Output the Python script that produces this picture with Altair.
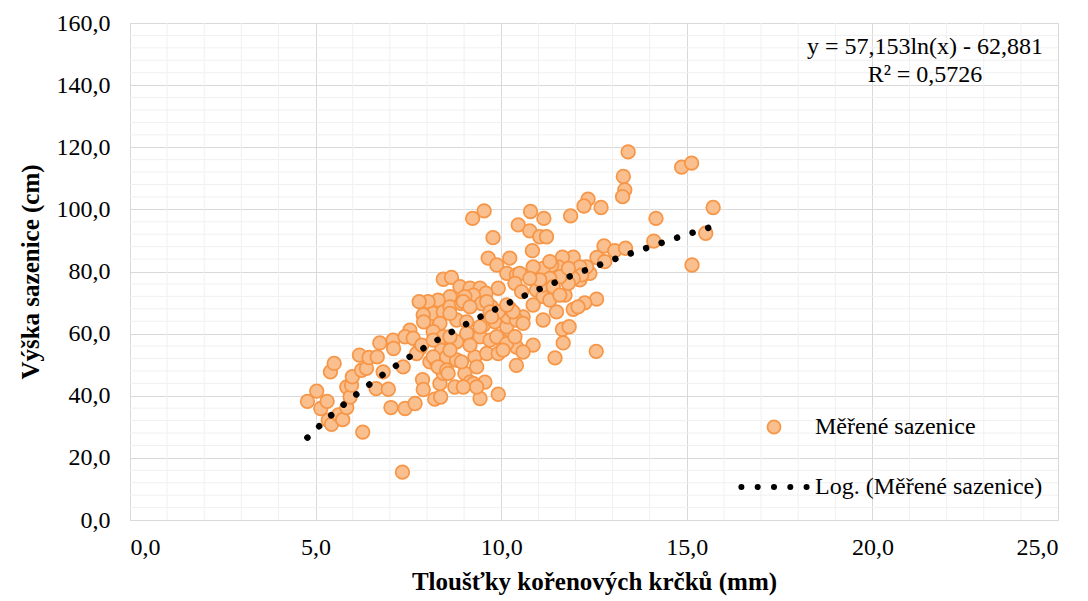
import altair as alt
import pandas as pd

# Root collar thickness (mm) and seedling height (cm) of the measured seedlings
thickness_mm = [
    4.78, 5.03, 5.14, 5.31, 5.34, 5.43, 5.40, 5.50, 5.62, 5.73, 5.84, 5.84, 5.93, 5.97, 5.99,
    6.18, 6.24, 6.27, 6.37, 6.44, 6.66, 6.63, 6.73, 6.82, 6.96, 7.03, 7.09, 7.10, 7.36, 7.41,
    7.68, 7.34, 7.54, 7.41, 7.63, 7.88, 7.90, 8.21, 8.37, 8.35, 7.99, 7.81, 8.08, 8.26, 8.44,
    8.39, 7.72, 7.86,
    9.65, 10.23, 9.88, 10.15, 10.41, 8.44, 8.66, 8.89, 9.16, 9.43, 9.92, 9.59, 9.25, 9.02, 8.62,
    8.30, 8.03, 7.79, 8.17, 8.44, 8.62, 8.93, 9.47, 9.74, 10.05, 10.32, 7.90, 7.91, 8.35, 8.80,
    9.07, 9.52, 9.83, 10.15, 8.17, 8.44, 8.80, 9.16, 9.43, 9.70, 10.05, 10.41, 8.17, 8.53, 8.80,
    9.29, 9.61, 9.92, 8.30, 8.53, 9.02, 9.34, 8.75, 9.16, 9.56, 9.43, 9.92,
    13.42, 13.29, 13.33, 13.27, 14.86, 15.13, 12.34, 12.23, 12.69, 11.87, 14.17, 9.23, 9.54,
    10.79, 11.15, 10.46, 10.77, 11.04, 11.22, 9.78, 10.84, 14.11, 12.77, 13.06, 13.35, 15.14,
    15.71, 15.51, 12.57, 12.56, 11.45, 11.67, 11.65, 11.83, 11.94, 12.25, 11.49, 11.72, 12.12,
    12.39, 12.58, 12.79, 12.30, 11.94, 11.65, 11.54, 11.36, 11.13, 10.86, 10.50, 10.37, 10.55,
    10.95, 11.13, 11.31, 10.17, 10.23, 10.59, 10.86, 11.13, 10.41, 9.43, 9.88, 10.15, 10.86,
    10.41, 10.59, 9.25, 10.05, 8.17, 8.62, 9.07, 8.98, 9.61, 9.70, 9.16, 8.62,
    12.07, 9.34, 8.98, 8.57, 8.93, 10.37, 10.59, 10.32, 9.92, 9.74, 9.16, 8.62, 10.15, 11.13,
    11.31, 12.12, 12.17, 11.94, 11.81, 11.58, 11.81, 11.31, 11.04, 10.77, 11.40, 11.58,
]
height_cm = [
    38.2, 41.5, 35.9, 38.2, 32.1, 30.8, 47.7, 50.4, 33.8, 32.3, 36.2, 42.8, 39.6, 43.4, 46.1,
    53.1, 48.2, 28.3, 48.8, 52.3, 52.5, 42.3, 57.0, 47.7, 42.1, 36.2, 57.9, 55.2, 49.3, 35.9,
    37.5, 15.4, 61.1, 59.0, 58.5, 45.2, 42.0, 38.9, 39.6, 43.9, 63.8, 55.2, 50.9, 50.9, 47.2,
    54.7, 53.6, 56.3,
    84.3, 84.3, 82.1, 79.4, 78.9, 77.5, 78.1, 75.1, 74.6, 74.6, 74.6, 73.0, 72.4, 71.9, 71.9,
    70.8, 70.3, 70.3, 66.5, 67.0, 68.6, 69.7, 69.7, 68.6, 66.5, 65.4, 66.0, 63.8, 63.3, 64.4,
    63.8, 62.7, 63.8, 62.2, 60.6, 59.0, 57.4, 59.5, 59.0, 57.9, 57.4, 55.7, 52.5, 52.5, 51.5,
    52.5, 53.6, 53.6, 49.3, 48.2, 47.2, 49.3, 42.8, 44.4, 44.4, 39.1, 40.5,
    118.5, 110.6, 106.3, 104.1, 113.6, 114.9, 103.3, 101.1, 100.6, 97.9, 97.1, 97.1, 99.5,
    99.3, 97.1, 95.0, 93.1, 91.2, 91.2, 90.9, 86.7, 89.8, 88.2, 86.7, 87.5, 82.1,
    100.6, 92.3, 71.1, 54.3, 52.2, 57.0, 61.4, 62.2, 67.8, 69.9, 67.0, 72.4, 77.3,
    79.4, 84.5, 83.2, 81.5, 84.6, 84.6, 81.5, 82.1, 81.0, 81.5, 79.4, 76.2, 73.5,
    74.0, 71.9, 70.8, 65.4, 68.1, 65.4, 69.2, 64.4, 64.4, 62.2, 59.0, 56.8, 56.3,
    49.8, 54.1, 43.9, 54.7, 57.9, 59.0, 60.1, 70.3, 70.3, 67.0, 68.6, 66.5,
    68.6, 42.8, 42.8, 47.2, 50.9, 59.0, 63.3, 67.0, 67.0, 65.4, 56.3, 54.7, 69.2, 75.6,
    83.2, 81.5, 78.9, 77.8, 76.2, 78.3, 81.0, 77.8, 77.3, 77.8, 75.1, 72.4,
]

series_name = "Měřené sazenice"
trend_name = "Log. (Měřené sazenice)"

# Logarithmic trendline y = a*ln(x) + b and its coefficient of determination
trend_a = 57.153
trend_b = -62.881
trend_r2 = 0.5726

x_major = [0, 5, 10, 15, 20, 25]
y_major = [0, 20, 40, 60, 80, 100, 120, 140, 160]
x_minor = [v for v in range(0, 26) if v % 5]
y_minor = [v for v in range(0, 161, 4) if v % 20]

FONT = "Liberation Serif"
FS = 24
TITLE_FS = 25
MAJOR = "#d9d9d9"
MINOR = "#f0f0f0"


def cz(value, digits):
    return f"{value:.{digits}f}".replace(".", ",")


eq_lines = [
    f"y = {cz(trend_a, 3)}ln(x) - {cz(-trend_b, 3)}",
    f"R² = {cz(trend_r2, 4)}",
]

points = pd.DataFrame({"x": thickness_mm, "y": height_cm, "series": series_name})

x_scale = alt.Scale(domain=[0, 25], nice=False, zero=False)
y_scale = alt.Scale(domain=[0, 160], nice=False)
label_cz = "replace(format(datum.value, '.1f'), '.', ',')"

axis_common = dict(
    grid=True, gridColor=MAJOR, gridWidth=1, domainColor=MAJOR, domainWidth=1,
    ticks=False, labelExpr=label_cz, labelFont=FONT, labelFontSize=FS,
    labelColor="black", titleFont=FONT, titleFontSize=TITLE_FS, titleFontWeight="bold",
    titleColor="black",
)
x_axis = alt.Axis(values=x_major, title="Tloušťky kořenových krčků (mm)",
                  labelPadding=15, titlePadding=10, **axis_common)
y_axis = alt.Axis(values=y_major, title="Výška sazenice (cm)",
                  labelPadding=20, titlePadding=13, **axis_common)

# Five round dots for the trendline entry of the legend (unit-square path)
r = 0.33
dots_path = " ".join(
    f"M{c - r},0 a{r},{r} 0 1 0 {2 * r},0 a{r},{r} 0 1 0 {-2 * r},0 Z"
    for c in (-5, -2.5, 0, 2.5, 5)
)

legend = alt.Legend(
    title=None, orient="none", legendX=632, legendY=392, padding=0,
    labelFont=FONT, labelFontSize=FS, labelColor="black", labelOffset=29,
    labelLimit=400, symbolSize=170, symbolStrokeWidth=1.75, rowPadding=36,
    symbolOpacity=1,
)
domain = [series_name, trend_name]

minor_x = alt.Chart(pd.DataFrame({"v": x_minor})).mark_rule(
    color=MINOR, strokeWidth=1
).encode(x=alt.X("v:Q", scale=x_scale, axis=x_axis))

minor_y = alt.Chart(pd.DataFrame({"w": y_minor})).mark_rule(
    color=MINOR, strokeWidth=1
).encode(y=alt.Y("w:Q", scale=y_scale, axis=y_axis))

scatter = alt.Chart(points).mark_point(
    filled=True, opacity=1, size=185, strokeWidth=1.75
).encode(
    x=alt.X("x:Q", scale=x_scale, axis=x_axis),
    y=alt.Y("y:Q", scale=y_scale, axis=y_axis),
    fill=alt.Fill("series:N", scale=alt.Scale(domain=domain, range=["#FABF8F", "#000000"]), legend=legend),
    stroke=alt.Stroke("series:N", scale=alt.Scale(domain=domain, range=["#F79646", "#000000"]), legend=legend),
    shape=alt.Shape("series:N", scale=alt.Scale(domain=domain, range=["circle", dots_path]), legend=legend),
)

trend = alt.Chart(points).transform_calculate(
    fit=f"{trend_a} * log(datum.x) + ({trend_b})"
).mark_line(
    color="black", strokeWidth=6.5, strokeDash=[0.01, 16.3], strokeCap="round"
).encode(
    x=alt.X("x:Q", scale=x_scale, axis=x_axis),
    y=alt.Y("fit:Q", scale=y_scale, axis=y_axis),
    order=alt.Order("x:Q"),
)

chart = alt.layer(minor_x, minor_y, scatter, trend).properties(
    width=928,
    height=497,
    autosize=alt.AutoSizeParams(type="none"),
    padding={"left": 130, "top": 23, "right": 30, "bottom": 81},
    title=alt.Title(
        text=eq_lines, anchor="end", align="center", frame="group", dx=-133,
        offset=-100, font=FONT, fontSize=FS, fontWeight="normal", color="black",
        lineHeight=28, baseline="bottom",
    ),
).configure_view(stroke=None).configure(background="white")

chart.save("out.html", embed_options={"renderer": "svg", "actions": False})
